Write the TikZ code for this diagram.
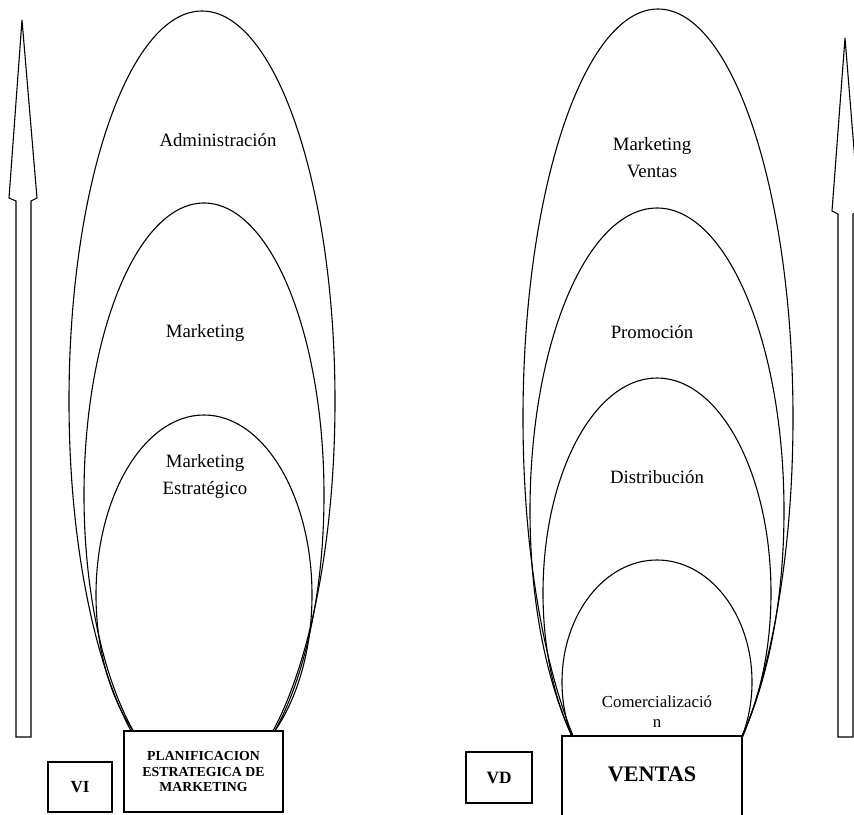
\documentclass[tikz,border=0pt]{standalone}
\usepackage{fontspec}
\setmainfont{Liberation Serif}
\begin{document}
\begin{tikzpicture}[x=1pt,y=-1pt,
  curve/.style={line width=1.1pt, black},
  lbl/.style={align=center, font=\fontsize{18.8}{27}\selectfont, inner sep=0pt},
  smalllbl/.style={align=center, font=\fontsize{16.8}{20}\selectfont, inner sep=0pt},
  boxnode/.style={draw, line width=1.1pt, fill=white, align=center, inner sep=0pt},
  upArrow/.style={draw, line width=1.1pt, line join=miter, fill=white}]
\useasboundingbox (0,0) rectangle (854,814);
\clip (0,0) rectangle (854,814);

% arrows
\draw[upArrow] (16,737) -- (16,201) -- (9,198) -- (22,20) -- (37,198) -- (31,201) -- (31,737) -- cycle;
\draw[upArrow] (838,737) -- (838,214) -- (832,211) -- (845,38) -- (859,211) -- (853,214) -- (853,737) -- cycle;

% left ellipses
\draw[curve] (202,401) ellipse (133 and 390);
\draw[curve] (204,495) ellipse (120 and 292);
\draw[curve] (204,595) ellipse (108 and 180);

% right ellipses
\draw[curve] (658,418) ellipse (135 and 409);
\draw[curve] (657,511) ellipse (127 and 303);
\draw[curve] (657,593) ellipse (114 and 215);
\draw[curve] (657,682) ellipse (95 and 122);

% labels
\node[lbl] (adm) at (218,140) {Administración};
\node[lbl] (mkt) at (205,333) {Marketing};
\node[lbl] (mke) at (205,476) {Marketing\\Estratégico};
\node[lbl] (mkv) at (652,158) {Marketing\\Ventas};
\node[lbl] (pro) at (652,332) {Promoción};
\node[lbl] (dis) at (657,477) {Distribución};
\node[smalllbl] (com) at (657,712) {Comercializació\\n};

% boxes
\node[boxnode, minimum width=159, minimum height=81, font=\bfseries\fontsize{13.8}{15.5}\selectfont] (pem) at (203.5,771.5) {PLANIFICACION\\ESTRATEGICA DE\\MARKETING};
\node[boxnode, minimum width=64, minimum height=50, font=\bfseries\fontsize{17}{20}\selectfont] (vi) at (80,787) {VI};
\node[boxnode, minimum width=66, minimum height=51, font=\bfseries\fontsize{17.3}{20}\selectfont] (vd) at (499,777.5) {VD};
\node[boxnode, minimum width=180, minimum height=90, font=\bfseries\fontsize{22.2}{26}\selectfont, text depth=0pt] (ven) at (652,781) {};
\node[font=\bfseries\fontsize{22.2}{26}\selectfont, inner sep=0pt] (ventxt) at (652,774) {VENTAS};
\end{tikzpicture}
\end{document}
